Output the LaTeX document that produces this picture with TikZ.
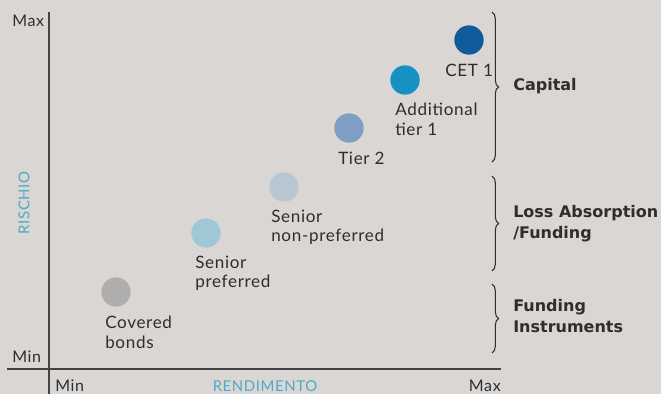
\documentclass[tikz,border=0pt]{standalone}
\usepackage{fontspec}
\setmainfont{Lato}[LetterSpace=4]
\newfontfamily\headfont{DejaVu Sans}
\usetikzlibrary{decorations.pathreplacing}
\definecolor{bg}{HTML}{D9D6D3}
\definecolor{ink}{HTML}{2E2E2E}
\definecolor{axisname}{HTML}{4FA9C9}
\definecolor{cCB}{HTML}{B0AEAC}
\definecolor{cSP}{HTML}{9FC7D6}
\definecolor{cSNP}{HTML}{B9C7D3}
\definecolor{cTT}{HTML}{809DC4}
\definecolor{cAT}{HTML}{1591C3}
\definecolor{cCET}{HTML}{105C9B}
\tikzset{
  dot/.style={circle, minimum size=22, inner sep=0pt, fill=#1},
  lbl/.style={text=ink, font=\fontsize{12.8}{14.4}\selectfont, align=left, anchor=north west, inner sep=0pt},
  axlbl/.style={text=ink, font=\fontsize{12}{13}\selectfont, inner sep=0pt},
  axname/.style={text=axisname, font=\fontsize{11.2}{12}\selectfont, inner sep=0pt},
  grp/.style={text=ink, font=\headfont\bfseries\fontsize{12}{15.8}\selectfont, align=left, anchor=west, inner sep=0pt},
  axline/.style={draw=ink!90, line width=0.8pt},
  bracket/.style={draw=ink, line width=0.8pt, decorate, decoration={brace, amplitude=5}},
}
\begin{document}
\begin{tikzpicture}[x=0.75pt, y=-0.75pt]
\fill[bg] (0,0) rectangle (661,394);
\useasboundingbox (0,0) rectangle (661,394);

% axes
\coordinate (ytop) at (49,12);
\coordinate (ybot) at (49,394);
\coordinate (xl) at (7,369);
\coordinate (xr) at (501,369);
\draw[axline] (ytop) -- (ybot);
\draw[axline] (xl) -- (xr);

\node[axlbl, anchor=west] (ymax) at (12,21) {Max};
\node[axlbl, anchor=west] (ymin) at (12,357) {Min};
\node[axlbl, anchor=west] (xmin) at (55,386) {Min};
\node[axlbl, anchor=east] (xmax) at (501,386) {Max};
\node[axname, rotate=90] (risk) at (24,203) {RISCHIO};
\node[axname] (yield) at (265,386) {RENDIMENTO};

% instruments
\node[dot=cCB]  (cb)  at (116,292) {};
\node[dot=cSP]  (sp)  at (206,233) {};
\node[dot=cSNP] (snp) at (284,187) {};
\node[dot=cTT]  (t2)  at (349,128) {};
\node[dot=cAT]  (at1) at (405,80) {};
\node[dot=cCET] (cet) at (469,40) {};

\node[lbl] (cbl)  at (105,316) {Covered\\bonds};
\node[lbl] (spl)  at (195,256) {Senior\\preferred};
\node[lbl] (snpl) at (271,210) {Senior\\non-preferred};
\node[lbl] (t2l)  at (338,152) {Tier 2};
\node[lbl] (at1l) at (395,103) {Additional\\tier 1};
\node[lbl] (cetl) at (445,64) {CET 1};

% groups
\coordinate (b1t) at (492,12);  \coordinate (b1b) at (492,162);
\coordinate (b2t) at (492,176); \coordinate (b2b) at (492,271);
\coordinate (b3t) at (492,284); \coordinate (b3b) at (492,353);
\draw[bracket] (b1t) -- (b1b);
\draw[bracket] (b2t) -- (b2b);
\draw[bracket] (b3t) -- (b3b);

\node[grp] (g1) at (513,86) {Capital};
\node[grp] (g2) at (513,224) {Loss Absorption\\/Funding};
\node[grp] (g3) at (513,316) {Funding\\Instruments};
\end{tikzpicture}
\end{document}
